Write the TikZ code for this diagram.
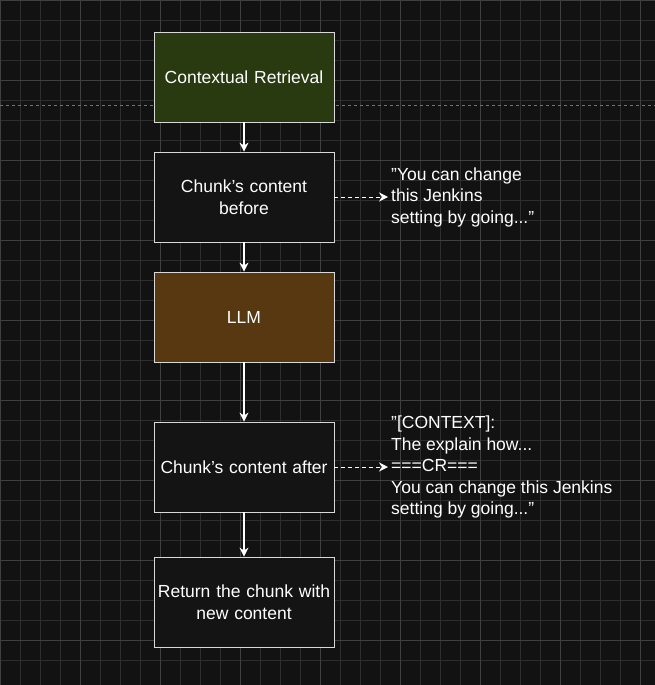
\documentclass[tikz,border=0pt]{standalone}
\usepackage{fontspec}
\setmainfont{Liberation Sans}
\usetikzlibrary{arrows.meta}
\newcommand{\dq}{\symbol{34}}
\newcommand{\sq}{\symbol{39}}
\begin{document}
\begin{tikzpicture}[x=1pt,y=-1pt,
 box/.style={draw=white!85!black,line width=0.8pt,minimum width=180pt,minimum height=90pt,text=white,font=\fontsize{17.5}{22}\selectfont,align=center,text width=178pt,inner sep=1pt},
 arr/.style={draw=white,line width=1.2pt,-{Stealth[length=9pt,width=9pt]}},
 dsh/.style={draw=white,line width=1pt,dash pattern=on 4pt off 3pt,-{Stealth[length=9pt,width=9pt]}},
 lbl/.style={text=white,font=\fontsize{17.5}{21.5}\selectfont,align=left,anchor=west,inner sep=3pt}]
\fill[fill=black!93] (0,0) rectangle (655,685);
\useasboundingbox (0,0) rectangle (655,685);
\foreach \i in {0,20,...,660} {
  \draw[black!82,line width=0.5pt] (\i,0) -- (\i,685);
  \draw[black!82,line width=0.5pt] (0,\i) -- (655,\i);}
\foreach \i in {0,80,...,660} {
  \draw[black!75,line width=0.9pt] (\i,0) -- (\i,685);
  \draw[black!75,line width=0.9pt] (0,\i) -- (655,\i);}
\draw[black!55,dashed,line width=0.5pt] (0,105) -- (655,105);
\node[box,fill={rgb,255:red,42;green,58;blue,16}] (a) at (244,77) {Contextual Retrieval};
\node[box,fill=black!92] (b) at (244,197) {Chunk\sq s content\\before};
\node[box,fill={rgb,255:red,88;green,56;blue,16}] (c) at (244,317) {LLM};
\node[box,fill=black!92] (d) at (244,467) {Chunk\sq s content after};
\node[box,fill=black!92] (e) at (244,602) {Return the chunk with\\new content};
\node[lbl] (t1) at (388,197) {\dq You can change\\this Jenkins\\setting by going...\dq};
\node[lbl] (t2) at (388,467) {\dq[CONTEXT]:\\The explain how...\\===CR===\\You can change this Jenkins\\setting by going...\dq};
\draw[arr] (a) -- (b);
\draw[arr] (b) -- (c);
\draw[arr] (c) -- (d);
\draw[arr] (d) -- (e);
\draw[dsh] (b.east) -- (t1.west);
\draw[dsh] (d.east) -- (t2.west);
\end{tikzpicture}
\end{document}
